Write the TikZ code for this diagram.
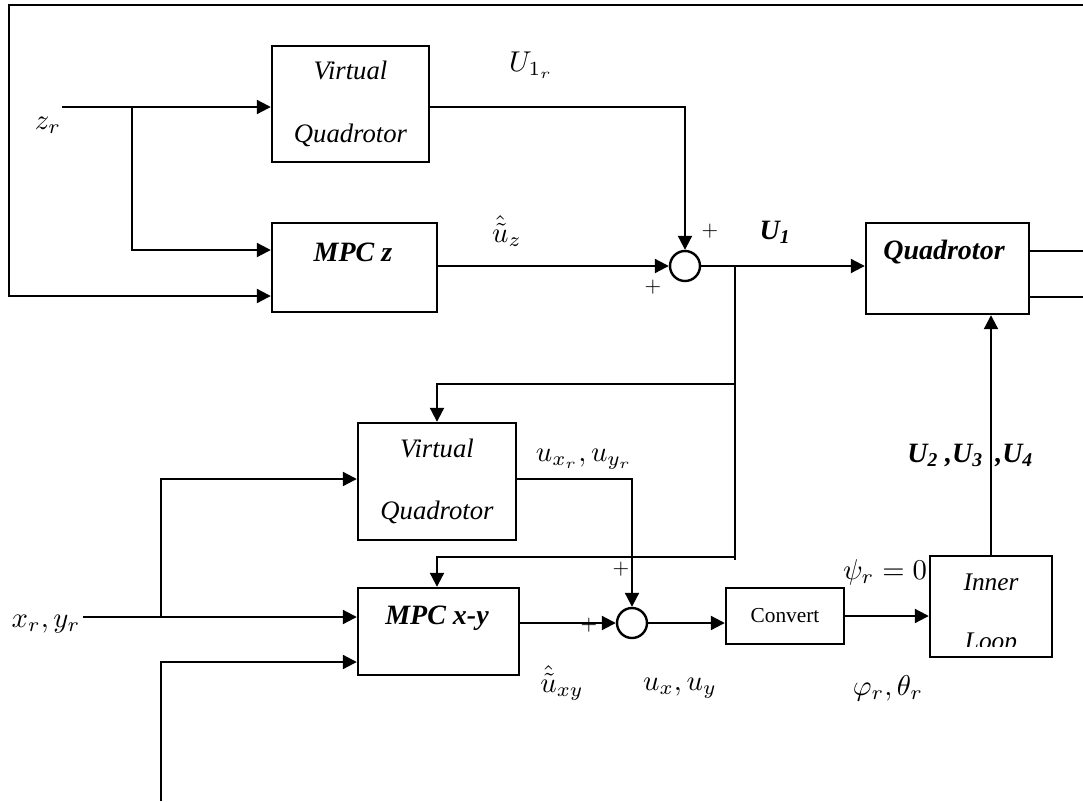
\documentclass[tikz,border=0pt]{standalone}
\usepackage{fontspec}
\setmainfont{Liberation Serif}
\usetikzlibrary{arrows.meta}
\begin{document}
\begin{tikzpicture}[x=0.75pt,y=-0.75pt,
  box/.style={draw, line width=1.8pt, inner sep=0pt},
  wire/.style={line width=1.6pt},
  arr/.style={wire, -{Triangle[length=10.5pt,width=10.5pt]}},
  sumc/.style={circle, draw, line width=1.8pt, minimum size=22.5pt, inner sep=0pt},
  twoline/.style={align=center, font=\fontsize{20}{47}\selectfont\itshape},
  itl/.style={font=\fontsize{19}{23}\selectfont\itshape, inner sep=0pt},
  bi/.style={font=\fontsize{21}{25}\selectfont\bfseries\itshape, inner sep=0pt},
  ml/.style={font=\fontsize{10}{12}\selectfont, inner sep=0pt, scale=2.15},
  pl/.style={font=\fontsize{10}{12}\selectfont, inner sep=0pt, scale=1.6}]

\useasboundingbox (0,0) rectangle (1083,801);

% ---------- blocks ----------
\node[box, twoline, minimum width=117.75pt, minimum height=87pt] (vq1) at (350.5,104) {Virtual\\Quadrotor};
\node[box, minimum width=123.75pt, minimum height=66.75pt] (mpcz) at (354.5,267.5) {};
\node[bi] (mpczt) at (353,252) {MPC z};
\node[sumc] (sum1) at (685,266) {};
\node[box, minimum width=122.25pt, minimum height=68.25pt] (quad) at (947.5,268.5) {};
\node[bi] (quadt) at (944,252) {Quadrotor};

\node[box, twoline, minimum width=118.5pt, minimum height=87.75pt] (vq2) at (437,481.5) {Virtual\\Quadrotor};
\node[box, minimum width=120.75pt, minimum height=65.25pt] (mpcxy) at (438.5,631.5) {};
\node[bi] (mpcxyt) at (437,618) {MPC x-y};
\node[sumc] (sum2) at (632,623) {};
\node[box, minimum width=88.5pt, minimum height=42pt, font=\fontsize{16}{19}\selectfont] (convert) at (785,616) {Convert};
\node[box, minimum width=91.5pt, minimum height=75.75pt] (inner) at (991,606.5) {};
\node[itl] (innert) at (991,582) {Inner};
\begin{scope}
  \clip (930,556) rectangle (1052,646);
  \node[itl, anchor=base] (loopt) at (991,649) {Loop};
\end{scope}

% ---------- upper loop ----------
\coordinate (zrS) at (62,107);
\coordinate (zrB) at (132,107);
\coordinate (zrB2) at (132,250);
\draw[arr] (zrS) -- (vq1.west |- zrS);
\draw[arr] (zrB) -- (zrB2) -- (mpcz.west |- zrB2);

\coordinate (fbR) at (1083,5);
\coordinate (fbL) at (9,5);
\coordinate (fbD) at (9,296);
\draw[arr] (fbR) -- (fbL) -- (fbD) -- (mpcz.west |- fbD);

\coordinate (vq1o) at (685,107);
\draw[arr] (vq1.east |- vq1o) -- (vq1o) -- (sum1.north);
\draw[arr] (mpcz.east |- sum1) -- (sum1.west);
\draw[arr] (sum1.east) -- (quad.west |- sum1);

\coordinate (q1) at (1083,251);
\coordinate (q2) at (1083,297);
\draw[wire] (quad.east |- q1) -- (q1);
\draw[wire] (quad.east |- q2) -- (q2);

% ---------- branch to x-y loop ----------
\coordinate (br1) at (735,266);
\coordinate (br2) at (735,560);
\draw[wire] (br1) -- (br2);
\coordinate (f1R) at (735,384);
\coordinate (f1L) at (437,384);
\draw[arr] (f1R) -- (f1L) -- (vq2.north);
\coordinate (f2R) at (735,557);
\coordinate (f2L) at (437,557);
\draw[arr] (f2R) -- (f2L) -- (f2L |- mpcxy.north);

% ---------- lower loop ----------
\coordinate (xrS) at (83,617);
\coordinate (xrB) at (161,617);
\coordinate (xrU) at (161,479);
\draw[arr] (xrS) -- (mpcxy.west |- xrS);
\draw[arr] (xrB) -- (xrU) -- (vq2.west |- xrU);
\coordinate (bS) at (161,801);
\coordinate (bU) at (161,662);
\draw[arr] (bS) -- (bU) -- (mpcxy.west |- bU);

\coordinate (vq2o) at (632,479);
\draw[arr] (vq2.east |- vq2o) -- (vq2o) -- (sum2.north);
\draw[arr] (mpcxy.east |- sum2) -- (sum2.west);
\draw[arr] (sum2.east) -- (convert.west |- sum2);
\draw[arr] (convert.east) -- (inner.west |- convert.east);
\draw[arr] (inner.north) -- (inner.north |- quad.south);

% ---------- labels ----------
\node[ml] (lzr) at (48,125) {$z_r$};
\node[ml] (lu1r) at (531,65) {$U_{1_r}$};
\node[ml] (luz) at (507,231) {$\hat{\tilde{u}}_z$};
\node[pl] (p1a) at (710,231) {$+$};
\node[pl] (p1b) at (653,287) {$+$};
\node[bi] (lU1) at (775,232) {U\textsubscript{1}};

\node[ml] (luxr) at (584,459) {$u_{x_r}, u_{y_r}$};
\node[ml] (luxy) at (562,683) {$\hat{\tilde{u}}_{xy}$};
\node[ml] (lux) at (680,688) {$u_x, u_y$};
\node[pl] (p2a) at (621,569) {$+$};
\node[pl] (p2b) at (589,625) {$+$};
\node[ml] (lxr) at (46,624) {$x_r, y_r$};
\node[ml] (lpsi) at (885,572) {$\psi_r = 0$};
\node[ml] (lphi) at (888,688) {$\varphi_r, \theta_r$};
\node[bi, anchor=east] (lU23) at (983,455) {U\textsubscript{2} ,U\textsubscript{3}};
\node[bi, anchor=west] (lU4) at (995,455) {,U\textsubscript{4}};
\end{tikzpicture}
\end{document}
